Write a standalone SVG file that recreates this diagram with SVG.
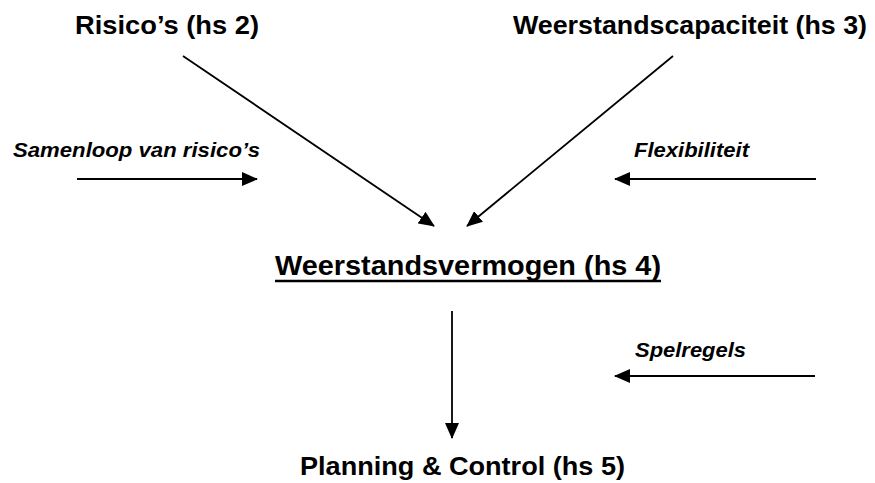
<svg xmlns="http://www.w3.org/2000/svg" width="875" height="483" viewBox="0 0 875 483">
<style>
.h{font-family:"Liberation Sans",Arial,sans-serif;font-weight:bold;font-size:26px;fill:#000}
.l{font-family:"Liberation Sans",Arial,sans-serif;font-weight:bold;font-style:italic;font-size:21px;fill:#000}
.c line{stroke:#000;stroke-width:1.8;marker-end:url(#ah)}
</style>
<defs>
<marker id="ah" viewBox="0 0 16 14" refX="15" refY="7" markerWidth="16" markerHeight="14" markerUnits="userSpaceOnUse" orient="auto">
<path d="M0,0 L16,7 L0,14 Z" fill="#000"/>
</marker>
</defs>
<rect width="875" height="483" fill="#fff"/>
<g id="risicos"><text class="h" x="75" y="34" textLength="184" lengthAdjust="spacingAndGlyphs">Risico’s (hs 2)</text></g>
<g id="weerstandscapaciteit"><text class="h" x="513" y="34" textLength="354" lengthAdjust="spacingAndGlyphs">Weerstandscapaciteit (hs 3)</text></g>
<g id="samenloop"><text class="l" x="13" y="157" textLength="247" lengthAdjust="spacingAndGlyphs">Samenloop van risico’s</text></g>
<g id="flexibiliteit"><text class="l" x="634" y="157" textLength="115" lengthAdjust="spacingAndGlyphs">Flexibiliteit</text></g>
<g id="weerstandsvermogen"><text class="h" x="275" y="275" style="font-size:28px" textLength="386" lengthAdjust="spacingAndGlyphs">Weerstandsvermogen (hs 4)</text><line x1="275" y1="281" x2="661" y2="281" stroke="#000" stroke-width="2.5"/></g>
<g id="spelregels"><text class="l" x="635" y="357" textLength="111" lengthAdjust="spacingAndGlyphs">Spelregels</text></g>
<g id="planning"><text class="h" x="300" y="475" textLength="325" lengthAdjust="spacingAndGlyphs">Planning &amp; Control (hs 5)</text></g>
<g id="connectors" class="c">
<line x1="183" y1="56" x2="434" y2="226"/>
<line x1="673" y1="56" x2="467" y2="226"/>
<line x1="77" y1="179" x2="257" y2="179"/>
<line x1="816" y1="179" x2="615" y2="179"/>
<line x1="452" y1="311" x2="452" y2="438"/>
<line x1="815" y1="376" x2="615" y2="376"/>
</g>
</svg>
